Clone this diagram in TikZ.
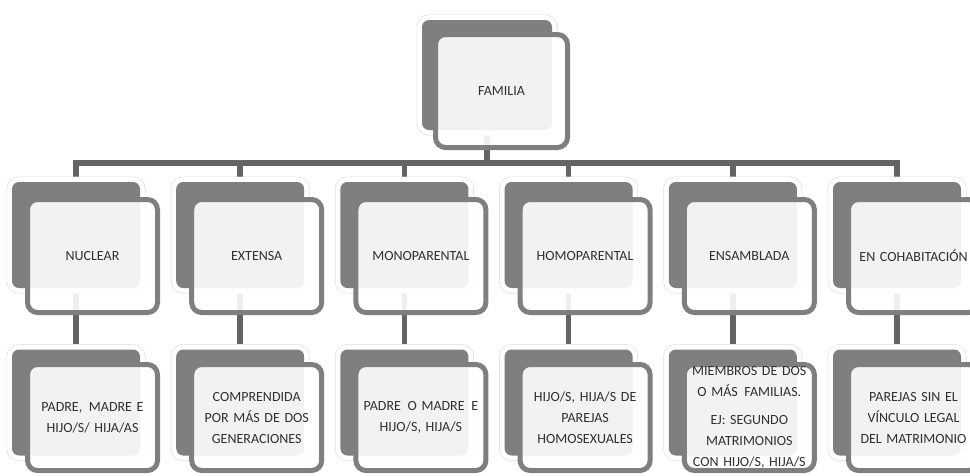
\documentclass[tikz,border=0pt]{standalone}
\usepackage{fontspec}
\setmainfont{Carlito}
\pgfdeclarelayer{background}
\pgfsetlayers{background,main}
\definecolor{cardgray}{RGB}{127,127,127}
\definecolor{linkgray}{RGB}{100,100,100}
\definecolor{txtgray}{RGB}{48,48,48}
\tikzset{>=stealth,
backcard/.style={rectangle, rounded corners=7pt, fill=cardgray, inner sep=0pt,
  minimum width=128pt, minimum height=106pt,
  preaction={draw=black!12, line width=11pt}, preaction={draw=white, line width=9.6pt}},
frontcard/.style={rectangle, rounded corners=10pt, draw=cardgray, line width=5pt,
  fill=white, fill opacity=0.9, text opacity=1, inner sep=2pt,
  minimum width=130pt, minimum height=113pt, text width=126pt, align=center,
  text=txtgray, font=\fontsize{14}{21}\selectfont},
link/.style={draw=linkgray, line width=5.5pt}}

\begin{document}
\begin{tikzpicture}[x=1pt,y=-1pt]
\useasboundingbox (0,0) rectangle (970,475);
\clip (0,0) rectangle (970,475);
\node[backcard, minimum width=130pt, minimum height=110pt] (fam-back) at (487,75) {};
\node[frontcard, minimum width=132pt] (fam-front) at ([shift={(14.5,16)}]fam-back) {FAMILIA};
\coordinate (bar) at (487,163);
\foreach \i/\name/\txt in {0/nuc/NUCLEAR, 1/ext/EXTENSA, 2/mon/MONOPARENTAL,
  3/hom/HOMOPARENTAL, 4/ens/ENSAMBLADA, 5/coh/EN COHABITACIÓN}
{
\node[backcard] (\name-back) at ({76+164.2*\i},235) {};
\node[frontcard] (\name-front) at ([shift={(16.5,21)}]\name-back) {\txt};
}
\foreach \i/\name/\txt in {0/nuc/{PADRE,\hspace{2pt} MADRE E\\HIJO/S/ HIJA/AS},
  1/ext/{COMPRENDIDA\\POR MÁS DE DOS\\GENERACIONES},
  2/mon/{PADRE\hspace{2pt} O MADRE\hspace{2pt} E\\HIJO/S, HIJA/S},
  3/hom/{HIJO/S, HIJA/S DE\\PAREJAS\\HOMOSEXUALES},
  4/ens/{MIEMBROS DE DOS\\O MÁS\hspace{2pt} FAMILIAS.\\[7pt]EJ: SEGUNDO\\MATRIMONIOS\\CON HIJO/S, HIJA/S},
  5/coh/{PAREJAS SIN EL\\VÍNCULO LEGAL\\DEL MATRIMONIO}}
{
\node[backcard] (\name-dback) at ({76+164.2*\i},402.5) {};
\node[frontcard, minimum height=106pt] (\name-dfront) at ([shift={(16.5,15)}]\name-dback) {\txt};
}
\begin{pgfonlayer}{background}
\draw[link] (fam-back.south) -- (bar);
\foreach \name in {nuc,ext,mon,hom,ens,coh}
{
\draw[link] (bar) -| (\name-back.north);
\draw[link] (\name-back.south) -- (\name-dback.north);
}
\end{pgfonlayer}
\end{tikzpicture}
\end{document}
